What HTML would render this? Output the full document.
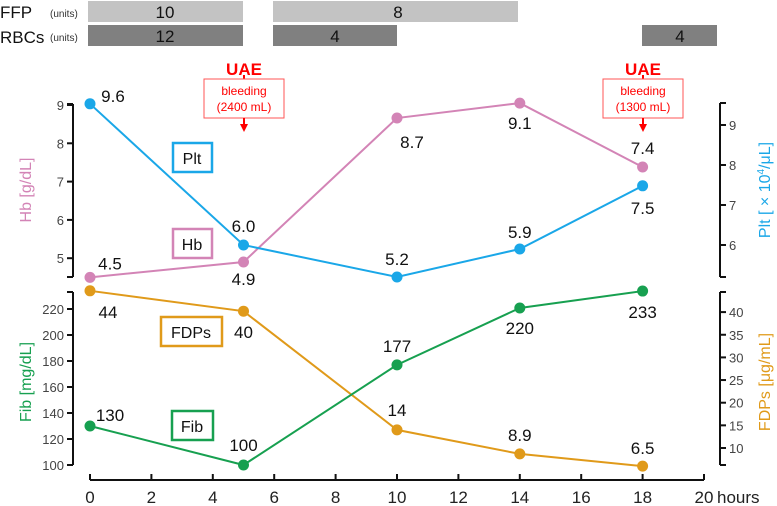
<!DOCTYPE html>
<html><head><meta charset="utf-8"><style>
body{margin:0;background:#fff;}
svg{display:block;font-family:"Liberation Sans",sans-serif;}
</style></head><body>
<svg id="chart" width="777" height="506" viewBox="0 0 777 506">
<g>
<text x="0" y="18" font-size="17" fill="#111">FFP</text>
<text x="50" y="17" font-size="10" fill="#333">(units)</text>
<text x="0" y="43" font-size="17" fill="#111">RBCs</text>
<text x="50" y="41" font-size="10" fill="#333">(units)</text>
<rect x="88" y="1" width="155" height="21" fill="#c3c3c3"/>
<text x="165" y="18" font-size="17" text-anchor="middle" fill="#111">10</text>
<rect x="273" y="1" width="245" height="21" fill="#c3c3c3"/>
<text x="398" y="18" font-size="17" text-anchor="middle" fill="#111">8</text>
<rect x="88" y="25" width="155" height="21" fill="#808080"/>
<text x="165" y="42" font-size="17" text-anchor="middle" fill="#111">12</text>
<rect x="273" y="25" width="124" height="21" fill="#808080"/>
<text x="335" y="42" font-size="17" text-anchor="middle" fill="#111">4</text>
<rect x="642" y="25" width="75" height="21" fill="#808080"/>
<text x="680" y="42" font-size="17" text-anchor="middle" fill="#111">4</text>
</g>
<g>
<text x="244" y="75" font-size="17" font-weight="bold" text-anchor="middle" fill="#f00">UAE</text>
<line x1="244" y1="75" x2="244" y2="80" stroke="#f00" stroke-width="2"/>
<rect x="204" y="79" width="80" height="39" fill="#fff" stroke="#f55" stroke-width="1"/>
<text x="244" y="95" font-size="12" text-anchor="middle" fill="#f00">bleeding</text>
<text x="244" y="111" font-size="12" text-anchor="middle" fill="#f00">(2400 mL)</text>
<line x1="244" y1="118" x2="244" y2="126" stroke="#f00" stroke-width="2"/>
<polygon points="240,124 248,124 244,132" fill="#f00"/>
</g>
<g>
<text x="643" y="75" font-size="17" font-weight="bold" text-anchor="middle" fill="#f00">UAE</text>
<line x1="643" y1="75" x2="643" y2="80" stroke="#f00" stroke-width="2"/>
<rect x="603" y="79" width="80" height="39" fill="#fff" stroke="#f55" stroke-width="1"/>
<text x="643" y="95" font-size="12" text-anchor="middle" fill="#f00">bleeding</text>
<text x="643" y="111" font-size="12" text-anchor="middle" fill="#f00">(1300 mL)</text>
<line x1="643" y1="118" x2="643" y2="126" stroke="#f00" stroke-width="2"/>
<polygon points="639,124 647,124 643,132" fill="#f00"/>
</g>
<g id="axes"></g>
<g id="series"></g>
<g>
<rect x="173" y="143" width="39" height="29" fill="#fff" stroke="#1aa7e8" stroke-width="2.5"/>
<text x="192" y="164" font-size="16" text-anchor="middle" fill="#111">Plt</text>
<rect x="173" y="229" width="39" height="29" fill="#fff" stroke="#d384b6" stroke-width="2.5"/>
<text x="192" y="250" font-size="16" text-anchor="middle" fill="#111">Hb</text>
<rect x="161" y="317" width="61" height="29" fill="#fff" stroke="#e09a1a" stroke-width="2.5"/>
<text x="191" y="338" font-size="16" text-anchor="middle" fill="#111">FDPs</text>
<rect x="172" y="411" width="41" height="29" fill="#fff" stroke="#17a050" stroke-width="2.5"/>
<text x="192" y="432" font-size="16" text-anchor="middle" fill="#111">Fib</text>
</g>
</svg>
<script>
const hours = [0, 5, 10, 14, 18];
const xTicks = [0, 2, 4, 6, 8, 10, 12, 14, 16, 18, 20];
const hbValues = [4.5, 4.9, 8.66, 9.05, 7.38];
const hbLabels = ["4.5", "4.9", "8.7", "9.1", "7.4"];
const pltValues = [9.53, 6.0, 5.2, 5.9, 7.48];
const pltLabels = ["9.6", "6.0", "5.2", "5.9", "7.5"];
const fibValues = [130, 100, 177, 220.8, 233.8];
const fibLabels = ["130", "100", "177", "220", "233"];
const fdpValues = [44.7, 40.2, 14, 8.7, 6.0];
const fdpLabels = ["44", "40", "14", "8.9", "6.5"];
const hbTicks = [5, 6, 7, 8, 9];
const pltTicks = [6, 7, 8, 9];
const fibTicks = [100, 120, 140, 160, 180, 200, 220];
const fdpTicks = [10, 15, 20, 25, 30, 35, 40];

const NS = "http://www.w3.org/2000/svg";
const X = h => 90 + h * 30.7;
const yHb = v => 105 + (9 - v) * 38.3;
const yPlt = v => 125 + (9 - v) * 40;
const yFib = v => 465 - (v - 100) * 1.3;
const yFdp = v => 448 - (v - 10) * 4.53;

function mk(tag, attrs, parent) {
  const e = document.createElementNS(NS, tag);
  for (const k in attrs) e.setAttribute(k, attrs[k]);
  parent.appendChild(e);
  return e;
}
const axes = document.getElementById("axes");
const series = document.getElementById("series");
const tickCol = "#444";

function vAxis(x, y1, y2, ticks, scale, side, name) {
  const g = mk("g", {}, axes);
  
  
  const d = side === "left" ? -6 : 6;
  mk("line", {x1: x, y1: y1, x2: x, y2: y2, stroke: "#111", "stroke-width": 2}, g);
  mk("line", {x1: x, y1: y1, x2: x + d, y2: y1, stroke: "#111", "stroke-width": 2}, g);
  mk("line", {x1: x, y1: y2, x2: x + d, y2: y2, stroke: "#111", "stroke-width": 2}, g);
  ticks.forEach(t => {
    const y = scale(t);
    mk("line", {x1: x, y1: y, x2: x + d, y2: y, stroke: "#111", "stroke-width": 2}, g);
    const tx = mk("text", {x: side === "left" ? x - 9 : x + 9, y: y + 5, "font-size": 13, fill: tickCol, "text-anchor": side === "left" ? "end" : "start"}, g);
    tx.textContent = t;
  });
}
vAxis(73, 104, 277, hbTicks, yHb, "left", "hb-axis");
vAxis(73, 292, 465, fibTicks, yFib, "left", "fib-axis");
vAxis(720, 103, 277, pltTicks, yPlt, "right", "plt-axis");
vAxis(720, 292, 465, fdpTicks, yFdp, "right", "fdp-axis");

const xg = mk("g", {}, axes);


mk("line", {x1: X(0), y1: 480, x2: X(20), y2: 480, stroke: "#111", "stroke-width": 2}, xg);
xTicks.forEach(t => {
  mk("line", {x1: X(t), y1: 480, x2: X(t), y2: 474, stroke: "#111", "stroke-width": 2}, xg);
  const tx = mk("text", {x: X(t), y: 503, "font-size": 17, fill: "#222", "text-anchor": "middle"}, xg);
  tx.textContent = t;
});
const hl = mk("text", {x: 717, y: 503, "font-size": 17, fill: "#222"}, xg);
hl.textContent = "hours";

function axisTitle(x, y, text, color, name) {
  const t = mk("text", {x: x, y: y, "font-size": 16, fill: color, "text-anchor": "middle", transform: `rotate(-90 ${x} ${y})`}, axes);
  
  
  t.innerHTML = text;
}
axisTitle(31, 190, "Hb [g/dL]", "#d384b6", "hb-axis-title");
axisTitle(31, 382, "Fib [mg/dL]", "#17a050", "fib-axis-title");
axisTitle(770, 190, "Plt [ × 10<tspan font-size='10' dy='-6'>4</tspan><tspan dy='6'>/μL]</tspan>", "#1aa7e8", "plt-axis-title");
axisTitle(770, 382, "FDPs [μg/mL]", "#e09a1a", "fdp-axis-title");

const hbLabelOffsets = [[20, -14], [0, 17], [15, 24], [0, 20], [0, -19]];
const pltLabelOffsets = [[23, -8], [0, -19], [0, -18], [0, -17], [0, 22]];
const fibLabelOffsets = [[20, -11], [0, -20], [0, -19], [0, 20], [0, 21]];
const fdpLabelOffsets = [[18, 21], [0, 21], [0, -20], [0, -19], [0, -18]];

function drawSeries(vals, labels, scale, color, offsets, name) {
  const g = mk("g", {}, series);
  
  
  const pts = vals.map((v, i) => X(hours[i]) + "," + scale(v)).join(" ");
  const pl = mk("polyline", {points: pts, fill: "none", stroke: color, "stroke-width": 2}, g);
  
  
  vals.forEach((v, i) => {
    const c = mk("circle", {cx: X(hours[i]), cy: scale(v), r: 5.5, fill: color}, g);
    
    
    const t = mk("text", {x: X(hours[i]) + offsets[i][0], y: scale(v) + offsets[i][1] + 6, "font-size": 17, fill: "#111", "text-anchor": "middle"}, g);
    
    
    t.textContent = labels[i];
  });
}
drawSeries(hbValues, hbLabels, yHb, "#d384b6", hbLabelOffsets, "hb");
drawSeries(pltValues, pltLabels, yPlt, "#1aa7e8", pltLabelOffsets, "plt");
drawSeries(fdpValues, fdpLabels, yFdp, "#e09a1a", fdpLabelOffsets, "fdp");
drawSeries(fibValues, fibLabels, yFib, "#17a050", fibLabelOffsets, "fib");
</script>
</body></html>
